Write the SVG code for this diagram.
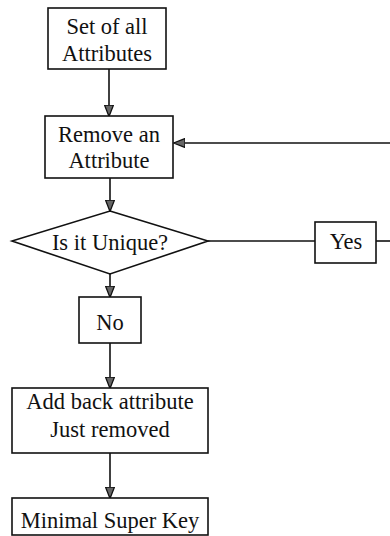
<svg xmlns="http://www.w3.org/2000/svg" width="390" height="536" viewBox="0 0 390 536">
  <style>
    .box { fill: #fff; stroke: #111; stroke-width: 1.6; }
    .lbl { font-family: "Liberation Serif", "Times New Roman", serif; font-size: 22.5px; fill: #111; text-anchor: middle; }
    .wire { fill: none; stroke: #111; stroke-width: 1.6; }
  </style>
  <defs>
    <marker id="arrow" viewBox="0 0 12 10" refX="11" refY="5" markerWidth="12" markerHeight="10" markerUnits="userSpaceOnUse" orient="auto">
      <path d="M0,0.5 L11.5,5 L0,9.5 Z" fill="#666" stroke="#111" stroke-width="1.3" stroke-linejoin="round"/>
    </marker>
  </defs>
  <rect width="390" height="536" fill="#fff"/>

  <g id="connectors">
    <line class="wire" x1="109" y1="69" x2="109" y2="116" marker-end="url(#arrow)"/>
    <line class="wire" x1="110" y1="178" x2="110" y2="211" marker-end="url(#arrow)"/>
    <line class="wire" x1="208" y1="241" x2="315" y2="241"/>
    <line class="wire" x1="376" y1="241" x2="390" y2="241"/>
    <line class="wire" x1="390" y1="143" x2="174" y2="143" marker-end="url(#arrow)"/>
    <line class="wire" x1="110" y1="274" x2="110" y2="297" marker-end="url(#arrow)"/>
    <line class="wire" x1="110" y1="343" x2="110" y2="388" marker-end="url(#arrow)"/>
    <line class="wire" x1="110" y1="453" x2="110" y2="498" marker-end="url(#arrow)"/>
  </g>

  <g id="set-of-all">
    <rect class="box" x="48" y="8" width="118" height="61"/>
    <text class="lbl" x="107" y="34">Set of all</text>
    <text class="lbl" x="107" y="61">Attributes</text>
  </g>

  <g id="remove-attribute">
    <rect class="box" x="45" y="116" width="128" height="62"/>
    <text class="lbl" x="109" y="142">Remove an</text>
    <text class="lbl" x="109" y="168">Attribute</text>
  </g>

  <g id="is-unique">
    <polygon class="box" points="110,211 208,241 110,274 12,241"/>
    <text class="lbl" x="110" y="250">Is it Unique?</text>
  </g>

  <g id="yes">
    <rect class="box" x="315" y="222" width="61" height="41"/>
    <text class="lbl" x="346" y="249">Yes</text>
  </g>

  <g id="no">
    <rect class="box" x="79" y="297" width="62" height="46"/>
    <text class="lbl" x="110" y="330">No</text>
  </g>

  <g id="add-back">
    <rect class="box" x="12" y="388" width="196" height="65"/>
    <text class="lbl" x="110" y="409">Add back attribute</text>
    <text class="lbl" x="110" y="437">Just removed</text>
  </g>

  <g id="minimal-super-key">
    <rect class="box" x="12" y="498" width="196" height="37"/>
    <text class="lbl" x="110" y="528">Minimal Super Key</text>
  </g>
</svg>
